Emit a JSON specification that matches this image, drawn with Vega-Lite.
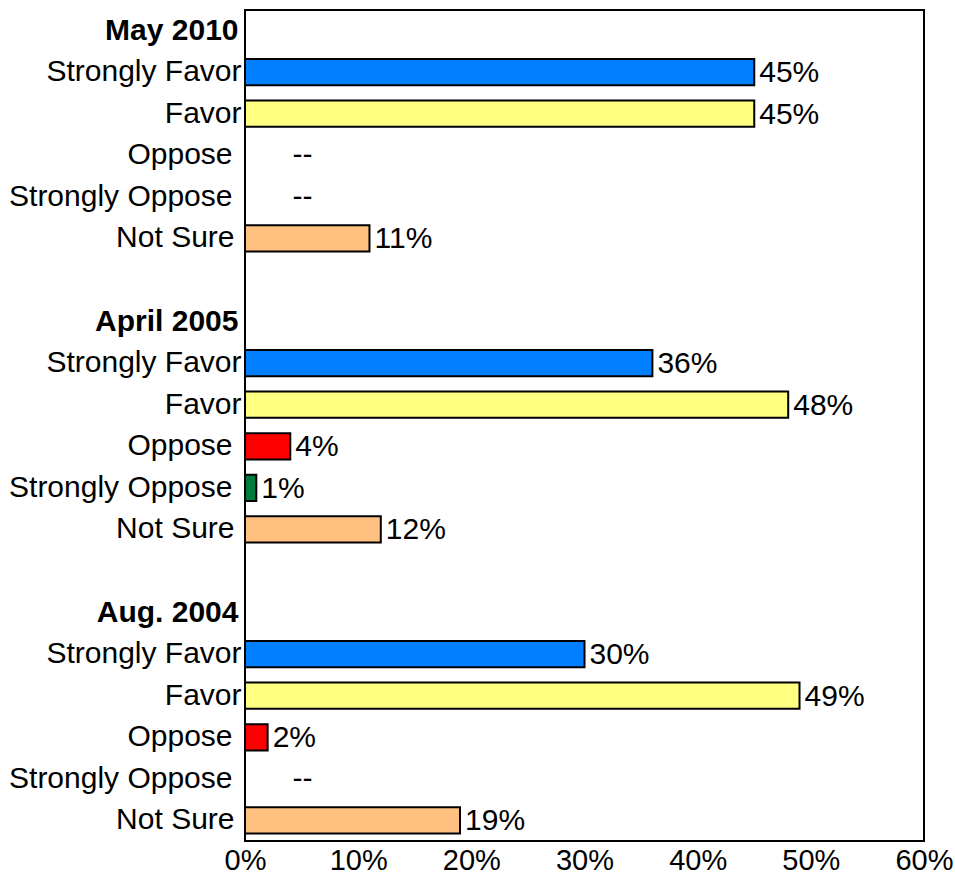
{
  "$schema": "https://vega.github.io/schema/vega-lite/v6.json",
  "width": 679,
  "height": 831,
  "padding": {"left": 8, "top": 10, "right": 0, "bottom": 0},
  "autosize": {"type": "pad"},
  "background": "white",
  "config": {"view": {"stroke": "black", "strokeWidth": 2}, "font": "Liberation Sans"},
  "data": {
    "values": [
      {"key": "May 2010|Strongly Favor", "cat": "Strongly Favor", "value": 45, "txt": "45%"},
      {"key": "May 2010|Favor", "cat": "Favor", "value": 45, "txt": "45%"},
      {"key": "May 2010|Oppose", "cat": "Oppose", "value": null, "txt": "--"},
      {"key": "May 2010|Strongly Oppose", "cat": "Strongly Oppose", "value": null, "txt": "--"},
      {"key": "May 2010|Not Sure", "cat": "Not Sure", "value": 11, "txt": "11%"},
      {"key": "April 2005|Strongly Favor", "cat": "Strongly Favor", "value": 36, "txt": "36%"},
      {"key": "April 2005|Favor", "cat": "Favor", "value": 48, "txt": "48%"},
      {"key": "April 2005|Oppose", "cat": "Oppose", "value": 4, "txt": "4%"},
      {"key": "April 2005|Strongly Oppose", "cat": "Strongly Oppose", "value": 1, "txt": "1%"},
      {"key": "April 2005|Not Sure", "cat": "Not Sure", "value": 12, "txt": "12%"},
      {"key": "Aug. 2004|Strongly Favor", "cat": "Strongly Favor", "value": 30, "txt": "30%"},
      {"key": "Aug. 2004|Favor", "cat": "Favor", "value": 49, "txt": "49%"},
      {"key": "Aug. 2004|Oppose", "cat": "Oppose", "value": 2, "txt": "2%"},
      {"key": "Aug. 2004|Strongly Oppose", "cat": "Strongly Oppose", "value": null, "txt": "--"},
      {"key": "Aug. 2004|Not Sure", "cat": "Not Sure", "value": 19, "txt": "19%"}
    ]
  },
  "encoding": {
    "y": {
      "field": "key",
      "type": "nominal",
      "title": null,
      "scale": {
        "domain": [
          "May 2010", "May 2010|Strongly Favor", "May 2010|Favor", "May 2010|Oppose", "May 2010|Strongly Oppose", "May 2010|Not Sure",
          "gap1",
          "April 2005", "April 2005|Strongly Favor", "April 2005|Favor", "April 2005|Oppose", "April 2005|Strongly Oppose", "April 2005|Not Sure",
          "gap2",
          "Aug. 2004", "Aug. 2004|Strongly Favor", "Aug. 2004|Favor", "Aug. 2004|Oppose", "Aug. 2004|Strongly Oppose", "Aug. 2004|Not Sure"
        ],
        "paddingInner": 0.37,
        "paddingOuter": 0.18
      },
      "axis": {
        "domain": false,
        "ticks": false,
        "grid": false,
        "labelFontSize": 30,
        "labelColor": "black",
        "labelLimit": 400,
        "labelExpr": "indexof(datum.value,'|')>=0 ? split(datum.value,'|')[1] : (indexof(datum.value,'gap')==0 ? '' : datum.value)",
        "labelFontWeight": {"condition": {"test": "indexof(datum.value,'|')<0", "value": "bold"}, "value": "normal"},
        "labelPadding": {"condition": [
          {"test": "indexof(datum.value,'Oppose')>=0", "value": 13},
          {"test": "indexof(datum.value,'Not Sure')>=0", "value": 11},
          {"test": "indexof(datum.value,'|')<0", "value": 7}
        ], "value": 4}
      }
    }
  },
  "layer": [
    {
      "mark": {"type": "bar", "stroke": "black", "strokeWidth": 2},
      "transform": [{"filter": "datum.value != null"}],
      "encoding": {
        "x": {
          "field": "value",
          "type": "quantitative",
          "title": null,
          "scale": {"domain": [0, 60], "nice": false},
          "axis": {
            "values": [0, 10, 20, 30, 40, 50, 60],
            "labelExpr": "datum.value + '%'",
            "labelFontSize": 29,
            "labelColor": "black",
            "labelFlush": false,
            "labelPadding": 5,
            "ticks": false,
            "domain": false,
            "grid": false
          }
        },
        "color": {
          "field": "cat",
          "type": "nominal",
          "legend": null,
          "scale": {
            "domain": ["Strongly Favor", "Favor", "Oppose", "Strongly Oppose", "Not Sure"],
            "range": ["#0080FF", "#FFFF80", "#FF0000", "#007A3D", "#FFC080"]
          }
        }
      }
    },
    {
      "mark": {"type": "text", "align": "left", "baseline": "middle", "dx": 5, "dy": 1, "fontSize": 30, "color": "black"},
      "transform": [{"filter": "datum.value != null"}],
      "encoding": {
        "x": {"field": "value", "type": "quantitative"},
        "text": {"field": "txt"}
      }
    },
    {
      "mark": {"type": "text", "align": "left", "baseline": "middle", "fontSize": 30, "color": "black"},
      "transform": [{"filter": "datum.value == null"}],
      "encoding": {
        "x": {"datum": 4.2},
        "text": {"field": "txt"}
      }
    }
  ]
}
